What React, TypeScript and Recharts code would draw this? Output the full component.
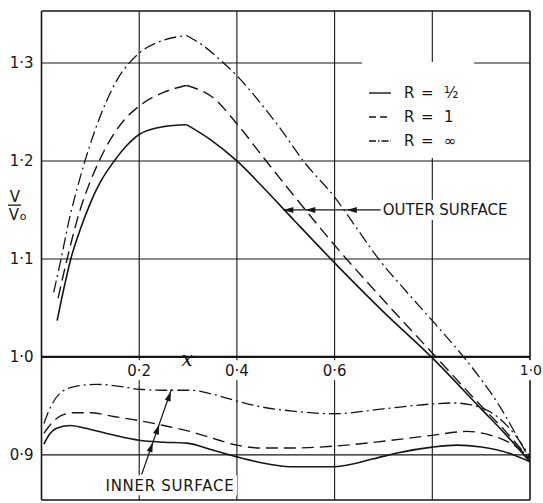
import { LineChart, Line, XAxis, YAxis, ReferenceLine, ReferenceDot, Legend } from 'recharts';

// [x, V/V0]
const outerHalf = [
  [0.032, 1.037], [0.045, 1.068], [0.06, 1.1], [0.08, 1.131], [0.1, 1.157], [0.12, 1.178],
  [0.149, 1.2], [0.175, 1.216], [0.2, 1.227], [0.25, 1.235], [0.297, 1.237],
  [0.345, 1.222], [0.4, 1.2], [0.45, 1.175], [0.516, 1.14], [0.6, 1.096], [0.7, 1.046],
  [0.8, 0.999], [0.9, 0.947], [0.95, 0.921], [1.0, 0.893],
];
const outerOne = [
  [0.034, 1.06], [0.05, 1.095], [0.065, 1.125], [0.079, 1.15], [0.099, 1.178], [0.118, 1.2],
  [0.14, 1.221], [0.168, 1.241], [0.2, 1.256], [0.25, 1.27], [0.297, 1.277], [0.35, 1.265],
  [0.4, 1.238], [0.455, 1.203], [0.516, 1.165], [0.6, 1.114], [0.7, 1.058], [0.8, 1.004],
  [0.9, 0.95], [0.95, 0.924], [1.0, 0.895],
];
const outerInf = [
  [0.025, 1.066], [0.04, 1.1], [0.058, 1.143], [0.073, 1.172], [0.089, 1.2], [0.11, 1.232],
  [0.134, 1.262], [0.155, 1.283], [0.178, 1.299], [0.2, 1.31], [0.243, 1.322], [0.297, 1.328],
  [0.33, 1.318], [0.366, 1.303], [0.4, 1.287], [0.45, 1.258], [0.489, 1.233], [0.536, 1.2],
  [0.6, 1.163], [0.65, 1.128], [0.69, 1.1], [0.75, 1.065], [0.8, 1.037], [0.864, 1.0],
  [0.9, 0.977], [0.94, 0.948], [0.97, 0.922], [1.0, 0.895],
];
const innerHalf = [
  [0.005, 0.911], [0.015, 0.92], [0.03, 0.927], [0.058, 0.93], [0.1, 0.926], [0.15, 0.92],
  [0.2, 0.915], [0.25, 0.913], [0.297, 0.912], [0.35, 0.905], [0.4, 0.898], [0.45, 0.892],
  [0.509, 0.888], [0.6, 0.888], [0.68, 0.896], [0.728, 0.902], [0.8, 0.908], [0.851, 0.91],
  [0.9, 0.908], [0.967, 0.9], [1.0, 0.893],
];
const innerOne = [
  [0.005, 0.922], [0.02, 0.932], [0.04, 0.94], [0.065, 0.943], [0.1, 0.943], [0.15, 0.939],
  [0.2, 0.935], [0.25, 0.93], [0.304, 0.924], [0.35, 0.917], [0.4, 0.91], [0.45, 0.907],
  [0.509, 0.907], [0.6, 0.909], [0.7, 0.914], [0.8, 0.92], [0.871, 0.924], [0.92, 0.92],
  [0.967, 0.91], [1.0, 0.897],
];
const innerInf = [
  [0.005, 0.932], [0.015, 0.945], [0.038, 0.963], [0.07, 0.97], [0.113, 0.972], [0.16, 0.97],
  [0.2, 0.967], [0.25, 0.966], [0.304, 0.966], [0.35, 0.962], [0.4, 0.955], [0.45, 0.949],
  [0.509, 0.945], [0.6, 0.942], [0.7, 0.947], [0.8, 0.952], [0.844, 0.953], [0.88, 0.951],
  [0.933, 0.939], [0.97, 0.92], [1.0, 0.898],
];

const yTicks = [0.9, 1.0, 1.1, 1.2, 1.3];
const xGrid = [0.2, 0.4, 0.6, 0.8];
const xTickLabels = [0.2, 0.4, 0.6, 1.0];
const legendValues = ['½', '1', '∞'];

// annotation arrows
const outerArrowTips = [0.495, 0.54, 0.625];
const innerArrowTips = [
  [0.228, 0.913], [0.241, 0.931], [0.265, 0.965],
];

const Y_DOMAIN: [number, number] = [0.854, 1.353];
const INK = '#161616';
const DASH = '12 6';
const DASH_DOT = '12 4 2 4';
const FONT = '"DejaVu Sans", sans-serif';

const pts = (a: number[][]) => a.map(([x, v]) => ({ x, v }));
const fmt = (v: number) => v.toFixed(1).replace('.', '·');

// the outer curves have a sharp corner at their peak, so they are drawn as two smooth pieces
function splitAtPeak(a: number[][]) {
  let k = 0;
  a.forEach((p, i) => {
    if (p[1] > a[k][1]) k = i;
  });
  return [a.slice(0, k + 1), a.slice(k)];
}

const series = [
  { id: 'outerHalf', data: outerHalf, dash: undefined, w: 1.6, split: true },
  { id: 'outerOne', data: outerOne, dash: DASH, w: 1.4, split: true },
  { id: 'outerInf', data: outerInf, dash: DASH_DOT, w: 1.3, split: true },
  { id: 'innerHalf', data: innerHalf, dash: undefined, w: 1.6, split: false },
  { id: 'innerOne', data: innerOne, dash: DASH, w: 1.4, split: false },
  { id: 'innerInf', data: innerInf, dash: DASH_DOT, w: 1.3, split: false },
];

function arrowHead(angle: number) {
  return (p: { cx?: number; cy?: number }) => (
    <path
      d="M0,0 L-10,-3 L-10,3 Z"
      fill={INK}
      transform={`translate(${p.cx},${p.cy}) rotate(${angle})`}
    />
  );
}

function boxedText(
  text: string,
  w: number,
  dx = 0,
  anchor: 'middle' | 'start' | 'end' = 'middle',
  spacing = 0,
  size = 15,
) {
  return (p: { cx?: number; cy?: number }) => {
    const cx = (p.cx ?? 0) + dx;
    const cy = p.cy ?? 0;
    const left = anchor === 'middle' ? cx - w / 2 : anchor === 'start' ? cx - 2 : cx - w + 2;
    return (
      <g>
        <rect x={left} y={cy - 10} width={w} height={20} fill="#fff" />
        <text
          x={cx}
          y={cy}
          dy="0.36em"
          textAnchor={anchor}
          fill={INK}
          fontSize={size}
          letterSpacing={spacing}
          style={{ fontFamily: FONT }}
        >
          {text}
        </text>
      </g>
    );
  };
}

function LegendBox() {
  const dashes = [undefined, '7 4', '7 2 1.5 2'];
  return (
    <svg width={112} height={96} style={{ display: 'block' }}>
      <rect width={112} height={96} fill="#fff" />
      {legendValues.map((val, i) => {
        const y = 31 + i * 24;
        return (
          <g key={val} fill={INK} fontSize={15} style={{ fontFamily: FONT }}>
            <line x1={7} x2={29} y1={y} y2={y} stroke={INK} strokeWidth={1.4} strokeDasharray={dashes[i]} />
            <text x={42} y={y} dy="0.36em">R</text>
            <text x={59} y={y} dy="0.36em">=</text>
            <text x={82} y={y} dy="0.36em">{val}</text>
          </g>
        );
      })}
    </svg>
  );
}

function YLabel(props: { viewBox?: { x: number; y: number; height: number } }) {
  const vb = props.viewBox ?? { x: 0, y: 0, height: 0 };
  const cx = vb.x + 15;
  const cy = vb.y + vb.height * 0.397;
  return (
    <g fill={INK} style={{ fontFamily: FONT }}>
      <text x={cx} y={cy - 3} textAnchor="middle" fontSize={15}>V</text>
      <line x1={cx - 7} x2={cx + 6} y1={cy} y2={cy} stroke={INK} strokeWidth={1.3} />
      <text x={cx - 1} y={cy + 15} textAnchor="middle" fontSize={15}>V</text>
      <text x={cx + 8} y={cy + 15} textAnchor="middle" fontSize={11}>o</text>
    </g>
  );
}

export default function App() {
  return (
    <div style={{ position: 'absolute', left: 0, top: 0, fontFamily: FONT, background: '#fff' }}>
      <LineChart width={543} height={503} margin={{ top: 11, right: 13, bottom: 3, left: 0 }}>
        <XAxis type="number" dataKey="x" domain={[0, 1]} hide allowDataOverflow />
        <YAxis
          type="number"
          domain={Y_DOMAIN}
          ticks={yTicks}
          width={41.5}
          allowDataOverflow
          axisLine={false}
          tickLine={false}
          tickFormatter={fmt}
          tick={{ fill: INK, fontSize: 15, fontFamily: FONT }}
          label={{ content: YLabel as never }}
        />

        {xGrid.map((x) => (
          <ReferenceLine key={`gx${x}`} x={x} stroke={INK} strokeWidth={1.1} />
        ))}
        {yTicks.map((y) => (
          <ReferenceLine key={`gy${y}`} y={y} stroke={INK} strokeWidth={y === 1.0 ? 2.2 : 1.1} />
        ))}
        <ReferenceLine x={0} stroke={INK} strokeWidth={1.6} />
        <ReferenceLine x={1} stroke={INK} strokeWidth={1.6} />
        <ReferenceLine y={Y_DOMAIN[0]} stroke={INK} strokeWidth={1.6} />
        <ReferenceLine y={Y_DOMAIN[1]} stroke={INK} strokeWidth={1.6} />

        {xTickLabels.map((x) => (
          <ReferenceDot
            key={`lx${x}`}
            x={x}
            y={0.9865}
            ifOverflow="visible"
            shape={x === 1 ? boxedText(fmt(x), 24, 12, 'end', 0, 14) : boxedText(fmt(x), 30)}
          />
        ))}
        <ReferenceDot
          x={0.298}
          y={0.995}
          ifOverflow="visible"
          shape={(p: { cx?: number; cy?: number }) => (
            <text
              x={p.cx}
              y={(p.cy ?? 0) + 4}
              textAnchor="middle"
              fontSize={20}
              fontStyle="italic"
              fill={INK}
              style={{ fontFamily: '"DejaVu Serif", serif' }}
            >
              x
            </text>
          )}
        />

        {series.flatMap((s) => {
          const parts = s.split ? splitAtPeak(s.data) : [s.data];
          return parts.map((part, i) => (
            <Line
              key={`${s.id}${i}`}
              data={pts(part)}
              dataKey="v"
              type="monotoneX"
              stroke={INK}
              strokeWidth={s.w}
              strokeDasharray={s.dash}
              dot={false}
              activeDot={false}
              legendType="none"
              isAnimationActive={false}
            />
          ));
        })}

        <ReferenceLine segment={[{ x: outerArrowTips[0], y: 1.15 }, { x: 0.695, y: 1.15 }]} stroke={INK} strokeWidth={1.2} />
        {outerArrowTips.map((x) => (
          <ReferenceDot key={`oa${x}`} x={x} y={1.15} shape={arrowHead(180)} />
        ))}
        <ReferenceDot x={0.6985} y={1.15} shape={boxedText('OUTER SURFACE', 132, 0, 'start')} />

        <ReferenceLine segment={[{ x: 0.205, y: 0.88 }, { x: 0.266, y: 0.967 }]} stroke={INK} strokeWidth={1.2} />
        {innerArrowTips.map(([x, y]) => (
          <ReferenceDot key={`ia${x}`} x={x} y={y} shape={arrowHead(-70.7)} />
        ))}
        <ReferenceDot x={0.263} y={0.869} shape={boxedText('INNER SURFACE', 134, 0, 'middle', 0.7)} />

        <Legend
          layout="horizontal"
          verticalAlign="middle"
          align="center"
          wrapperStyle={{ left: 362, top: 62, width: 112, height: 96 }}
          content={() => <LegendBox />}
        />
      </LineChart>
    </div>
  );
}
